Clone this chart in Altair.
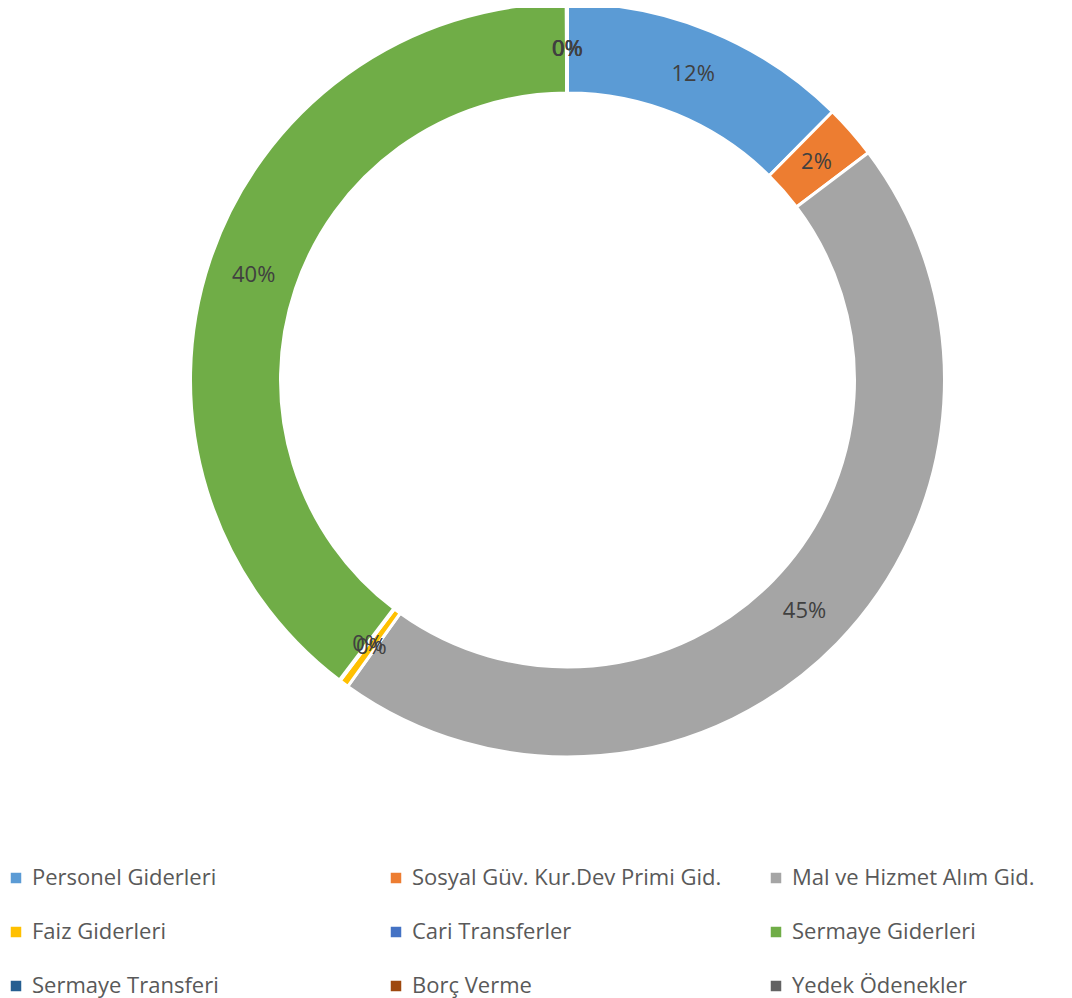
import altair as alt
import pandas as pd

categories = [
    "Personel Giderleri",
    "Sosyal Güv. Kur.Dev Primi Gid.",
    "Mal ve Hizmet Alım Gid.",
    "Faiz Giderleri",
    "Cari Transferler",
    "Sermaye Giderleri",
    "Sermaye Transferi",
    "Borç Verme",
    "Yedek Ödenekler",
]
shares = [12.4, 2.3, 45.2, 0.4, 0.05, 39.6, 0.05, 0.0, 0.0]
labels = ["12%", "2%", "45%", "0%", "0%", "40%", "0%", "0%", "0%"]
colors = ["#5B9BD5", "#ED7D31", "#A5A5A5", "#FFC000", "#4472C4",
          "#70AD47", "#255E91", "#9E480E", "#636363"]

df = pd.DataFrame({
    "category": categories,
    "share": shares,
    "label": labels,
    "order": list(range(len(categories))),
})

FONT = "Open Sans"
CX, CY = 559.5, 372

base = alt.Chart(df).encode(
    theta=alt.Theta("share:Q", stack=True),
    order=alt.Order("order:Q"),
)

arcs = base.mark_arc(
    outerRadius=377, innerRadius=287, stroke="white", strokeWidth=3
).encode(
    x=alt.value(CX),
    y=alt.value(CY),
    color=alt.Color(
        "category:N",
        scale=alt.Scale(domain=categories, range=colors),
        legend=alt.Legend(
            title=None,
            orient="none",
            legendX=-3,
            legendY=859,
            direction="horizontal",
            columns=3,
            gridAlign="all",
            columnPadding=43,
            rowPadding=32,
            symbolType="square",
            symbolSize=110,
            symbolStrokeWidth=0,
            labelFont=FONT,
            labelFontSize=22,
            labelColor="#595959",
            labelOffset=5,
            labelLimit=400,
            padding=0,
        ),
    ),
)

texts = base.mark_text(
    radius=331, font=FONT, fontSize=22, color="#404040"
).encode(
    x=alt.value(CX),
    y=alt.value(CY),
    text="label:N",
)

chart = (arcs + texts).properties(
    width=1056, height=990, padding=0,
    autosize=alt.AutoSizeParams(type="none"),
).configure_view(stroke=None)

chart.save("out.html", embed_options={"renderer": "svg", "actions": False})
